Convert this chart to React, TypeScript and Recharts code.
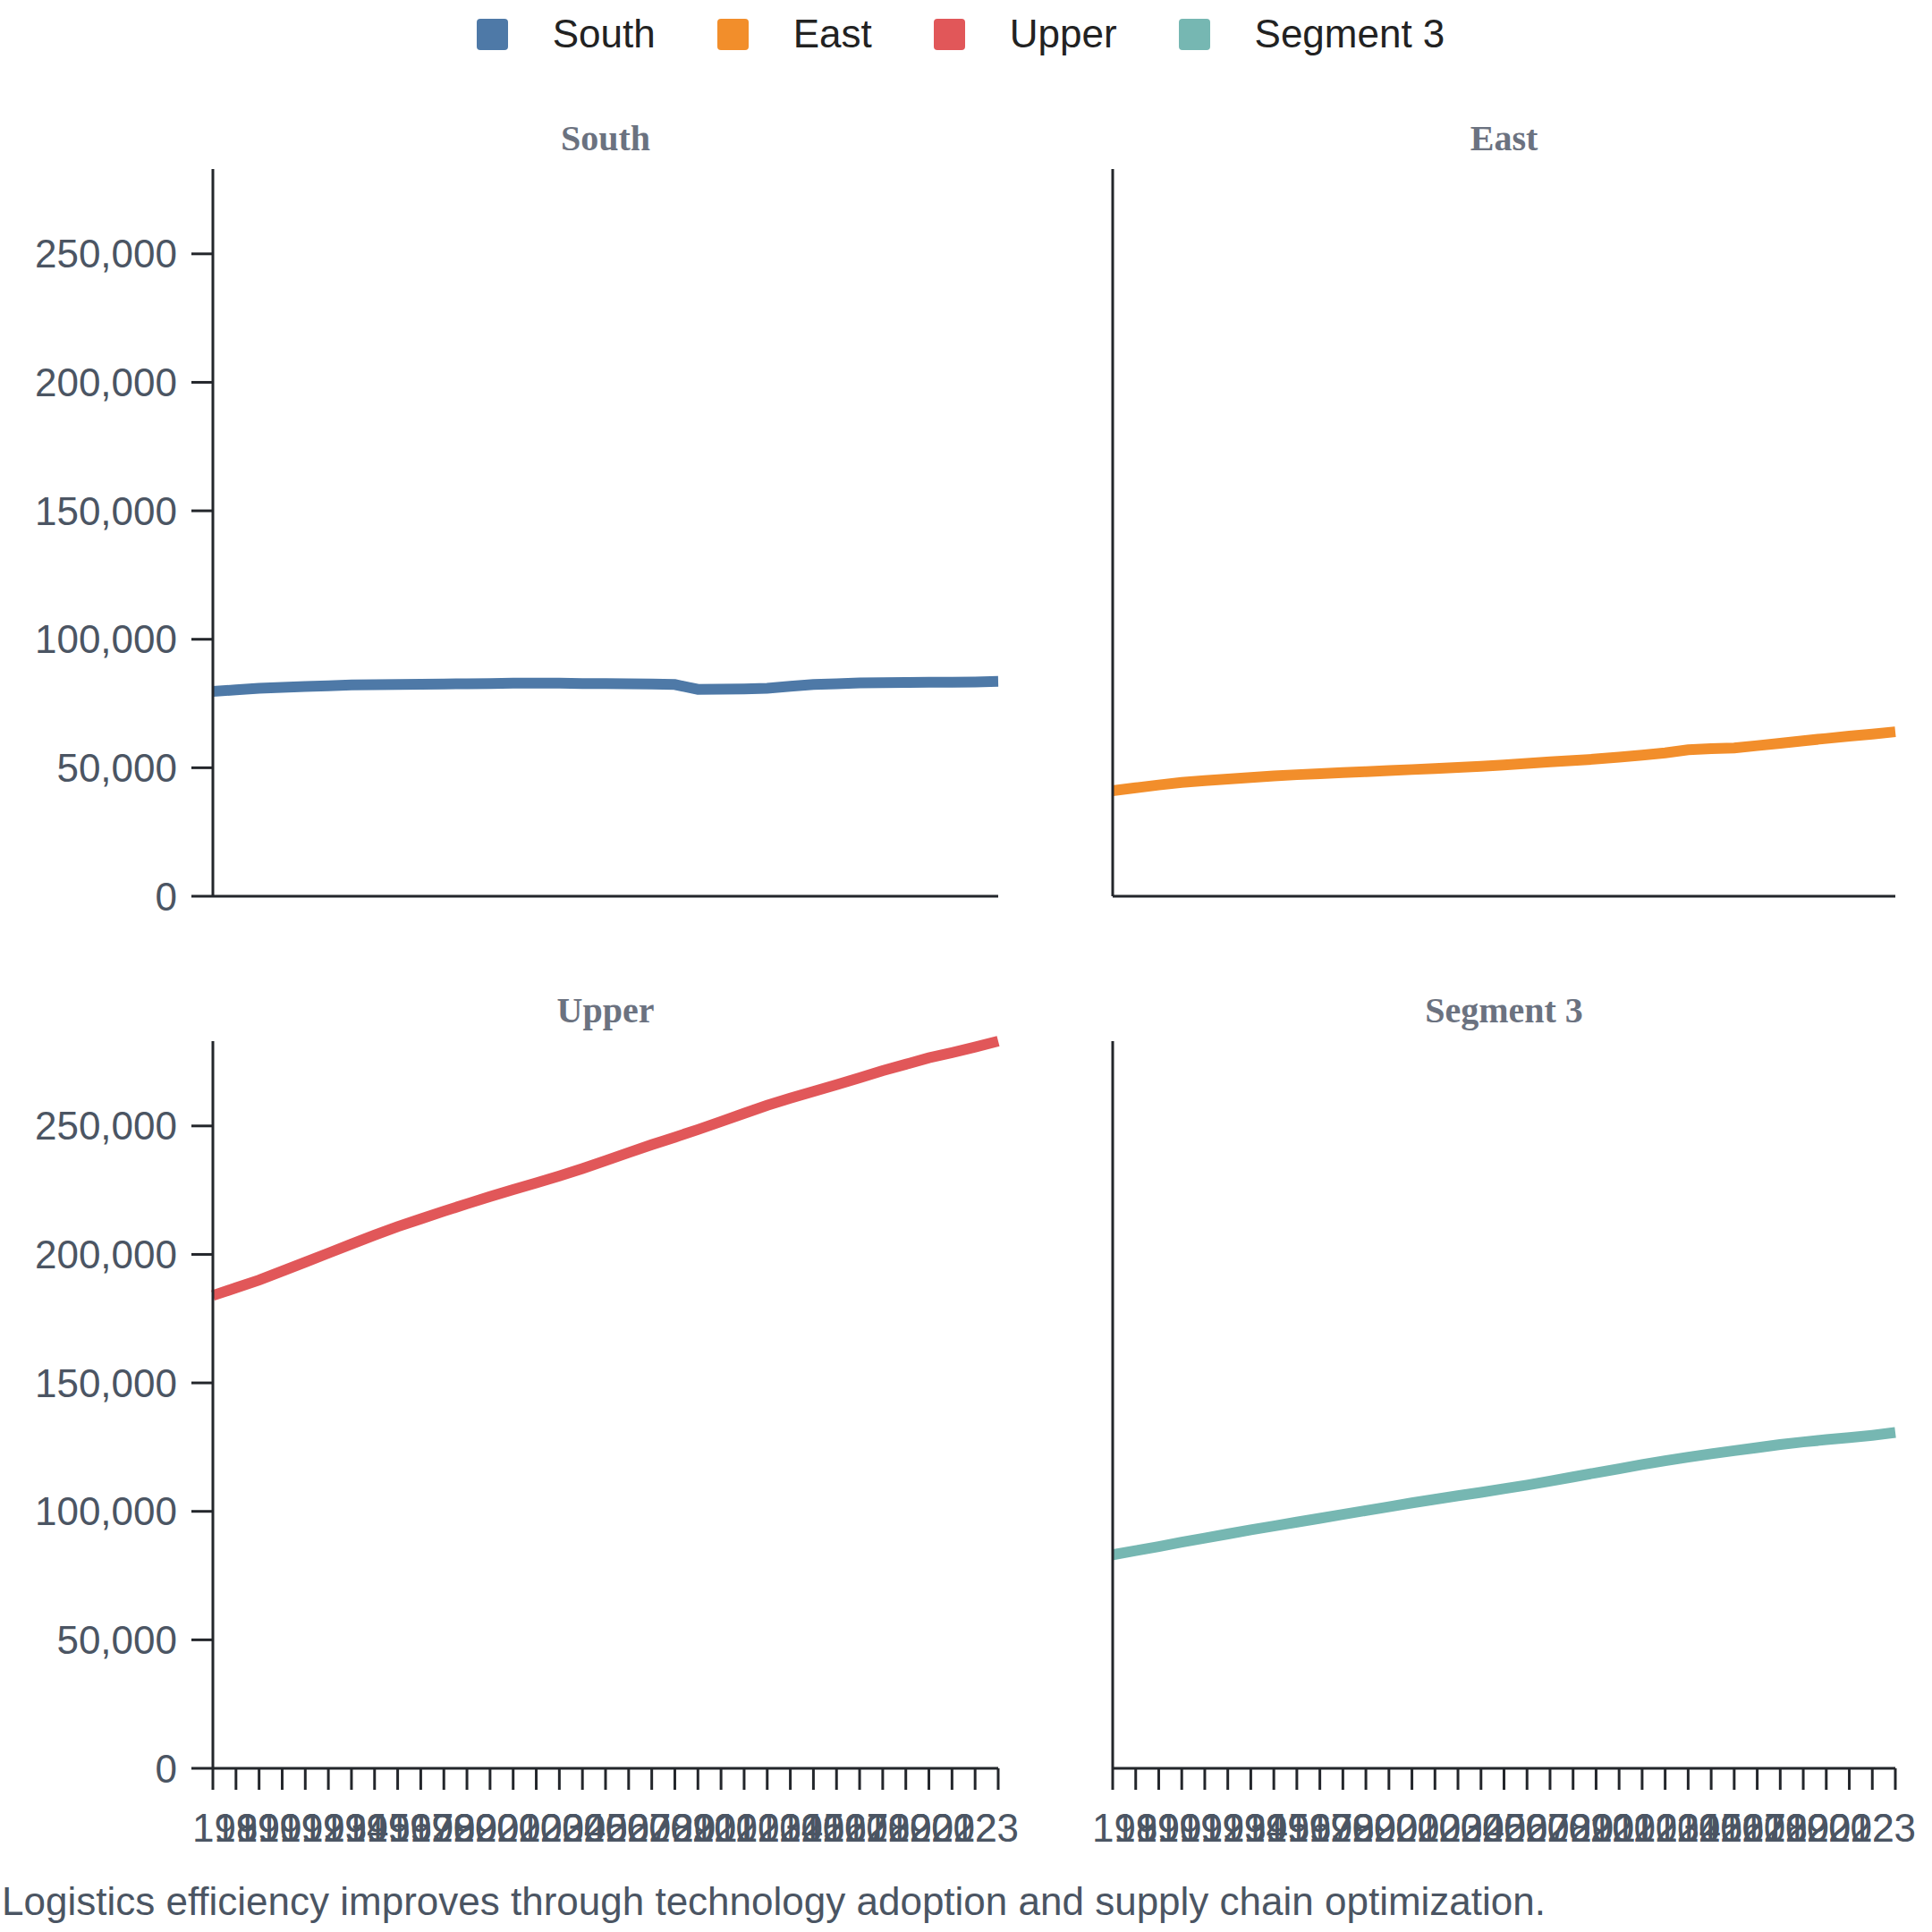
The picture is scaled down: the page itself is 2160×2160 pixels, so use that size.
import React from "react"
import { LineChart, Line, XAxis, YAxis } from "recharts"

// Yearly values per region
const years = [
  1989, 1990, 1991, 1992, 1993, 1994, 1995, 1996, 1997, 1998, 1999, 2000, 2001, 2002, 2003, 2004, 2005, 2006,
  2007, 2008, 2009, 2010, 2011, 2012, 2013, 2014, 2015, 2016, 2017, 2018, 2019, 2020, 2021, 2022, 2023,
]

const south = [
  79700, 80300, 80900, 81300, 81600, 81900, 82200, 82300, 82400, 82500, 82600, 82700, 82800, 82900, 82900, 82900,
  82800, 82800, 82700, 82600, 82400, 80500, 80600, 80700, 80900, 81700, 82400, 82700, 83000, 83100, 83200, 83300,
  83300, 83400, 83600,
]

const east = [
  41100, 42200, 43300, 44300, 45000, 45600, 46200, 46800, 47300, 47700, 48100, 48500, 48900, 49300, 49700, 50100,
  50600, 51100, 51700, 52300, 52800, 53400, 54100, 54900, 55800, 57000, 57400, 57700, 58600, 59500, 60500, 61400,
  62300, 63100, 64000,
]

const upper = [
  184000, 187000, 190000, 193500, 197000, 200500, 204000, 207500, 210800, 213800, 216800, 219700, 222500, 225200,
  227800, 230500, 233400, 236500, 239600, 242700, 245600, 248600, 251700, 254900, 258000, 260800, 263400, 266000,
  268700, 271500, 274000, 276500, 278500, 280700, 283000,
]

const segment3 = [
  83100, 84700, 86300, 88000, 89600, 91200, 92800, 94300, 95800, 97300, 98800, 100300, 101800, 103300, 104700,
  106100, 107400, 108800, 110200, 111800, 113400, 115000, 116600, 118200, 119700, 121100, 122400, 123600, 124800,
  126000, 127000, 127900, 128700, 129600, 130700,
]

const seriesNames = ["South", "East", "Upper", "Segment 3"]
const colors = ["#4e79a7", "#f28e2b", "#e15759", "#76b7b2"]
const yTicks = [0, 50000, 100000, 150000, 200000, 250000]

const data = years.map((year, i) => ({
  year,
  South: south[i],
  East: east[i],
  Upper: upper[i],
  "Segment 3": segment3[i],
}))

const yMax = Math.max(...south, ...east, ...upper, ...segment3)

const SANS = "'Liberation Sans', Arial, sans-serif"
const AXIS = "#23262b"
const LABEL = "#4b5563"

function XTick(props: any) {
  const { x, y, payload } = props
  const i = years.indexOf(payload.value)
  // labels are pulled slightly inward at the ends, as in the original
  const t = i / (years.length - 1)
  const shift = 26 * (1 - 2 * t)
  return (
    <text x={x + shift} y={y} dy="0.71em" textAnchor="middle" fill={LABEL} fontSize={44} fontFamily={SANS}>
      {payload.value}
    </text>
  )
}

function Panel({ name, color, col, row }: { name: string; color: string; col: number; row: number }) {
  const yWidth = col === 0 ? 238 : 80
  const left = col === 0 ? 0 : 1164
  const plotW = col === 0 ? 878 : 875
  const top = row === 0 ? 179 : 1154
  const xHeight = row === 0 ? 40 : 100
  const plotH = 813
  const width = yWidth + plotW + 40
  const height = 10 + plotH + xHeight

  return (
    <>
      <div
        style={{
          position: "absolute",
          left: left + yWidth,
          top: row === 0 ? 135 : 1110,
          width: plotW,
          textAlign: "center",
          fontFamily: "'Liberation Serif', 'Times New Roman', serif",
          fontWeight: "bold",
          fontSize: 40,
          lineHeight: "40px",
          color: "#6b7280",
        }}
      >
        {name}
      </div>
      <div style={{ position: "absolute", left, top }}>
        <LineChart width={width} height={height} data={data} margin={{ top: 10, right: 40, bottom: 0, left: 0 }}>
          <XAxis
            dataKey="year"
            type="category"
            height={xHeight}
            interval={0}
            axisLine={{ stroke: AXIS, strokeWidth: 3 }}
            tickLine={row === 1 ? { stroke: AXIS, strokeWidth: 3 } : false}
            tickSize={24}
            tickMargin={27}
            tick={row === 1 ? <XTick /> : false}
          />
          <YAxis
            type="number"
            width={yWidth}
            domain={[0, yMax]}
            ticks={yTicks}
            interval={0}
            axisLine={{ stroke: AXIS, strokeWidth: 3 }}
            tickLine={col === 0 ? { stroke: AXIS, strokeWidth: 3 } : false}
            tickSize={24}
            tickMargin={16}
            tick={col === 0 ? { fontSize: 44, fill: LABEL, fontFamily: SANS } : false}
            tickFormatter={(v: number) => v.toLocaleString("en-US")}
          />
          <Line
            type="linear"
            dataKey={name}
            stroke={color}
            strokeWidth={12}
            dot={false}
            activeDot={false}
            isAnimationActive={false}
          />
        </LineChart>
      </div>
    </>
  )
}

export default function App() {
  return (
    <div
      style={{
        position: "absolute",
        left: 0,
        top: 0,
        width: 2160,
        height: 2160,
        background: "#fff",
        overflow: "hidden",
      }}
    >
      <div
        style={{
          position: "absolute",
          left: 0,
          top: 0,
          width: 2148,
          height: 76,
          display: "flex",
          justifyContent: "center",
          alignItems: "center",
          fontFamily: SANS,
          fontSize: 44,
          lineHeight: "44px",
          color: "#222",
        }}
      >
        {seriesNames.map((s, i) => (
          <div key={s} style={{ display: "flex", alignItems: "center", marginLeft: i === 0 ? 0 : 69 }}>
            <div style={{ width: 35, height: 35, borderRadius: 4, background: colors[i], marginRight: 50 }} />
            <span>{s}</span>
          </div>
        ))}
      </div>

      {seriesNames.map((s, i) => (
        <Panel key={s} name={s} color={colors[i]} col={i % 2} row={Math.floor(i / 2)} />
      ))}

      <div
        style={{
          position: "absolute",
          left: 2,
          top: 2104,
          fontFamily: SANS,
          fontSize: 44,
          lineHeight: "44px",
          color: LABEL,
          whiteSpace: "nowrap",
        }}
      >
        Logistics efficiency improves through technology adoption and supply chain optimization.
      </div>
    </div>
  )
}
